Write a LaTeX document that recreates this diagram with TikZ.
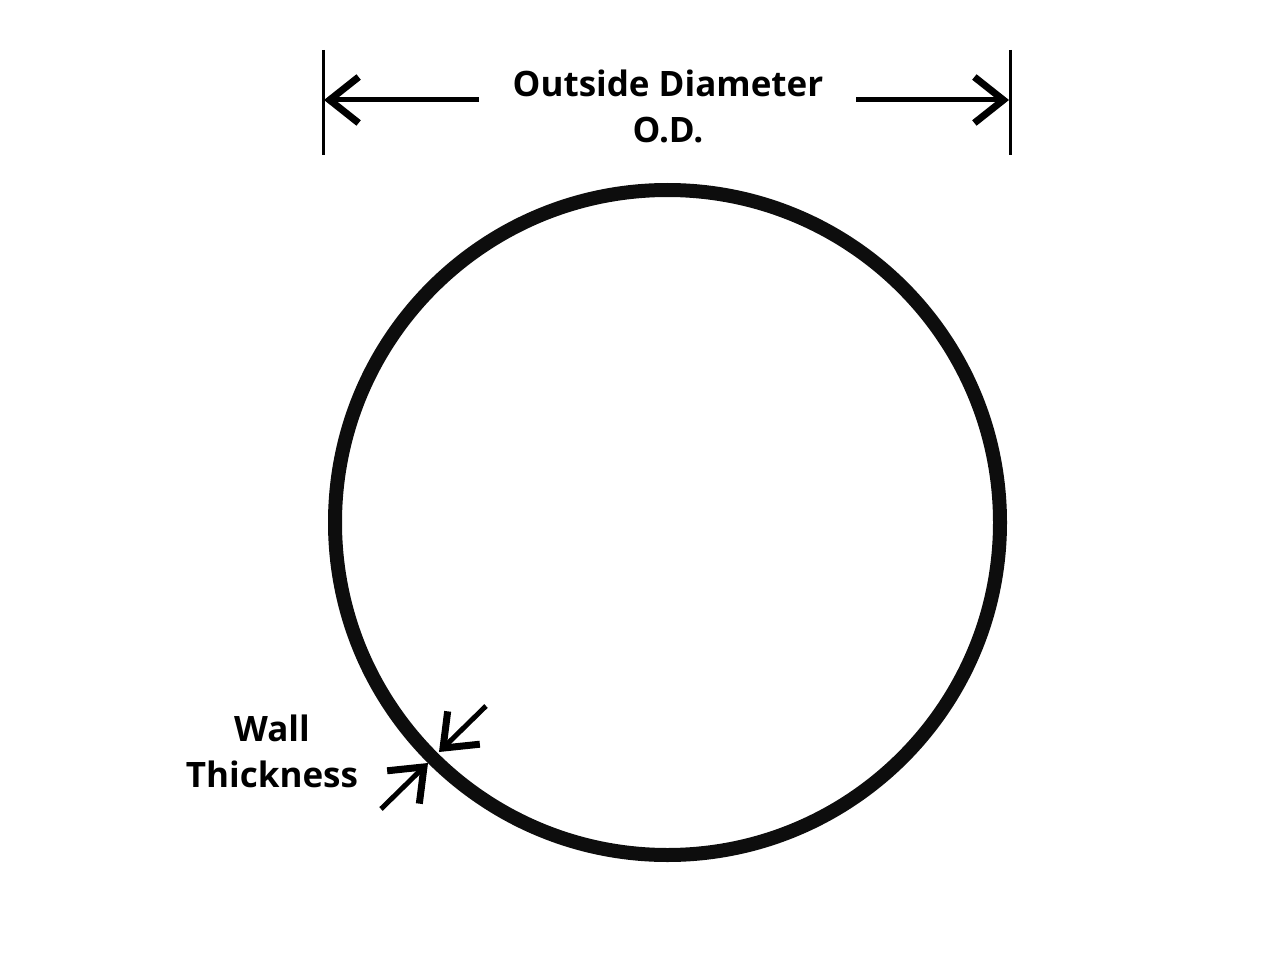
\documentclass[tikz,border=0pt]{standalone}
\usepackage{fontspec}
\setmainfont{Open Sans}
\usetikzlibrary{arrows.meta}
\tikzset{
  lbl/.style={font=\bfseries\fontsize{35}{46}\selectfont, align=center, inner sep=0pt, anchor=base},
  dimarrow/.style={line width=5pt, -{Straight Barb[length=29pt,width=46pt,line width=7pt]}},
  extline/.style={line width=3pt},
  wall/.style={draw=black!95, line width=14pt, circle, minimum size=665pt, inner sep=0pt}
}
\begin{document}
\begin{tikzpicture}[x=1pt,y=-1pt]
\useasboundingbox (0,0) rectangle (1280,960);
\node[wall] (pipe) at (667.5,522.5) {};
% extension lines
\coordinate (lt) at (323,50); \coordinate (lb) at (323,155);
\coordinate (rt) at (1010,50); \coordinate (rb) at (1010,155);
\draw[extline] (lt) -- (lb);
\draw[extline] (rt) -- (rb);
% OD label
\node[lbl] (od1) at (668,97) {Outside Diameter};
\node[lbl] (od2) at (668,143) {O.D.};
% dimension arrows
\coordinate (la) at (479,100); \coordinate (ltip) at (324,100);
\coordinate (ra) at (856,100); \coordinate (rtip) at (1009,100);
\draw[dimarrow] (la) -- (ltip);
\draw[dimarrow] (ra) -- (rtip);
% wall thickness
\node[lbl] (w1) at (272,741) {Wall};
\node[lbl] (w2) at (272,787) {Thickness};
\coordinate (ua) at (486,706); \coordinate (utip) at (439,752);
\coordinate (da) at (381,809); \coordinate (dtip) at (428,763);
\draw[dimarrow] (ua) -- (utip);
\draw[dimarrow] (da) -- (dtip);
\end{tikzpicture}
\end{document}
